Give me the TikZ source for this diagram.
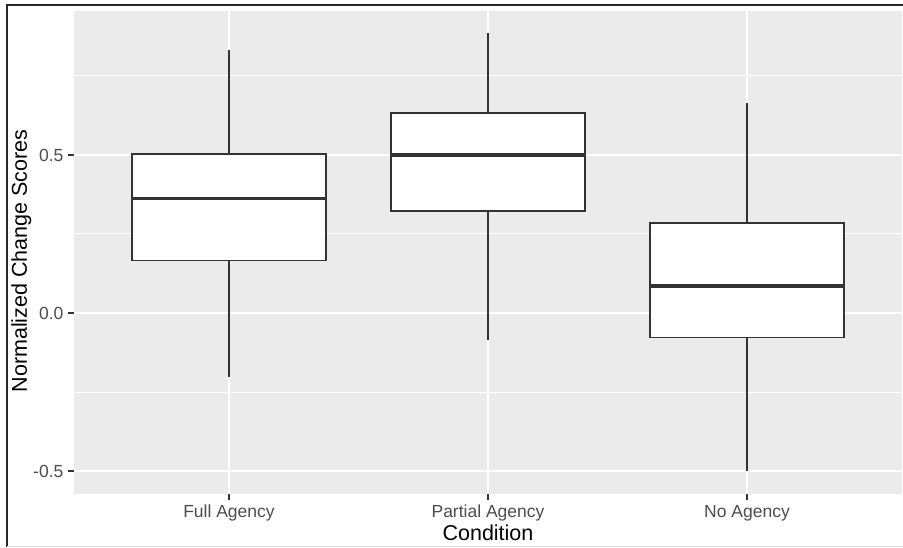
\documentclass[tikz,border=0pt]{standalone}
\usepackage{fontspec}
\setmainfont{Liberation Sans}
\usetikzlibrary{positioning}
\definecolor{panelgray}{HTML}{EBEBEB}
\definecolor{tickgray}{HTML}{333333}
\definecolor{labelgray}{HTML}{4D4D4D}
\tikzset{
  majorgrid/.style={draw=white, line width=2pt},
  minorgrid/.style={draw=white, line width=1pt},
  boxline/.style={draw=tickgray, line width=1.6pt, fill=white},
  medianline/.style={draw=tickgray, line width=3.6pt},
  whisker/.style={draw=tickgray, line width=1.6pt},
  tickmark/.style={draw=tickgray, line width=1.4pt},
  ticklabel/.style={text=labelgray, inner sep=0pt, font=\fontsize{17.5}{20}\selectfont},
  axistitle/.style={text=black, inner sep=0pt, font=\fontsize{21.5}{25}\selectfont}
}
\begin{document}
\begin{tikzpicture}[x=1pt,y=1pt]
  \useasboundingbox (0,0) rectangle (903,547);
  \fill[white] (0,0) rectangle (903,547);
  % frame round the figure
  \draw[black!85, line width=1.6pt] (7,0) -- (7,542) -- (903,542);
  \draw[black!12, line width=1pt] (7,1) -- (903,1);

  \begin{scope}[shift={(-30,234)}, x=259pt, y=316pt]
    \fill[panelgray] (0.4,-0.573) rectangle (3.6,0.956);
    \foreach \v in {-0.25,0.25,0.75}
      \draw[minorgrid] (0.4,\v) -- (3.6,\v);
    \foreach \v in {-0.5,0,0.5}
      \draw[majorgrid] (0.4,\v) -- (3.6,\v);
    \foreach \c in {1,2,3}
      \draw[majorgrid] (\c,-0.573) -- (\c,0.956);

    % boxes: position / min / q1 / median / q3 / max / name
    \foreach \c/\lo/\qa/\md/\qb/\hi/\nm in {1/-0.203/0.163/0.362/0.5/0.832/full,
        2/-0.085/0.32/0.5/0.63/0.886/part,
        3/-0.5/-0.08/0.085/0.283/0.665/none}{
      \coordinate (\nm lo) at (\c,\lo);
      \coordinate (\nm hi) at (\c,\hi);
      \coordinate (\nm md) at (\c,\md);
      \pgfmathsetmacro{\bh}{(\qb-\qa)*316}
      \node[boxline, rectangle, minimum width=194pt, minimum height=\bh pt,
        inner sep=0pt, anchor=south] (\nm box) at (\c,\qa) {};
      \draw[whisker] (\nm box.north) -- (\nm hi);
      \draw[whisker] (\nm box.south) -- (\nm lo);
      \draw[medianline] (\nm box.west |- \nm md) -- (\nm box.east |- \nm md);
    }

    % y axis
    \foreach \v/\t/\nm in {-0.5/-0.5/ma,0/0.0/mb,0.5/0.5/mc}{
      \coordinate (yt\nm) at (0.4,\v);
      \draw[tickmark] ([xshift=-6pt]yt\nm) -- (yt\nm);
      \node[ticklabel, anchor=east] (yl\nm) at ([xshift=-10pt]yt\nm) {\t};
    }
    % x axis
    \foreach \c/\t/\nm in {1/Full Agency/full,2/Partial Agency/part,3/No Agency/none}{
      \coordinate (xt\nm) at (\c,-0.573);
      \draw[tickmark] (xt\nm) -- ([yshift=-6pt]xt\nm);
      \node[ticklabel, anchor=base] (xl\nm) at ([yshift=-23pt]xt\nm) {\t};
    }
  \end{scope}

  \node[axistitle, anchor=base] (xtitle) at (488,7) {Condition};
  \node[axistitle, anchor=base, rotate=90] (ytitle) at (27,286) {Normalized Change Scores};
\end{tikzpicture}
\end{document}
